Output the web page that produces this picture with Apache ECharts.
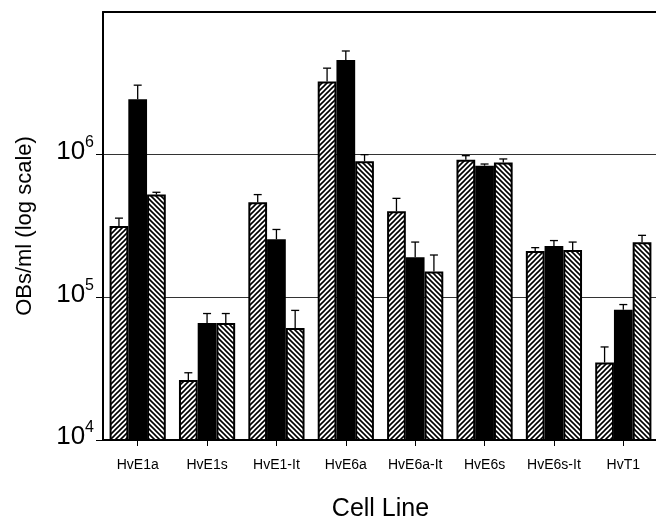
<!DOCTYPE html>
<html>
<head>
<meta charset="utf-8">
<script src="https://cdn.jsdelivr.net/npm/echarts@6/dist/echarts.min.js"></script>
<style>html,body{margin:0;padding:0;background:#fff;}#c{width:656px;height:520px;}</style>
</head>
<body>
<div id="c"></div>
<script>
// ---- data ----
const categories = ['HvE1a','HvE1s','HvE1-It','HvE6a','HvE6a-It','HvE6s','HvE6s-It','HvT1'];
const seriesA = [3.16e5, 2.63e4, 4.64e5, 3.26e6, 4.01e5, 9.23e5, 2.11e5, 3.49e4];
const errTopA = [3.59e5, 2.96e4, 5.25e5, 4.04e6, 4.94e5, 9.84e5, 2.23e5, 4.49e4];
const seriesB = [2.45e6, 6.6e4, 2.55e5, 4.61e6, 1.91e5, 8.37e5, 2.29e5, 8.2e4];
const errTopB = [3.07e6, 7.7e4, 2.99e5, 5.33e6, 2.44e5, 8.6e5, 2.5e5, 8.9e4];
const seriesC = [5.25e5, 6.6e4, 6.1e4, 8.98e5, 1.52e5, 8.83e5, 2.15e5, 2.43e5];
const errTopC = [5.45e5, 7.7e4, 8.1e4, 1.0e6, 1.98e5, 9.33e5, 2.44e5, 2.72e5];
const yTicks = [1e4, 1e5, 1e6];
const yMin = 1e4, yMax = 1e7;

function hatch(dir){
  const s = 5;
  const c = document.createElement('canvas');
  c.width = c.height = s;
  const g = c.getContext('2d');
  g.fillStyle = '#fff'; g.fillRect(0,0,s,s);
  g.strokeStyle = '#000'; g.lineWidth = 1.6;
  g.beginPath();
  if (dir > 0) {
    g.moveTo(-1, s+1); g.lineTo(s+1, -1);
    g.moveTo(-1, 1); g.lineTo(1, -1);
    g.moveTo(s-1, s+1); g.lineTo(s+1, s-1);
  } else {
    g.moveTo(-1, -1); g.lineTo(s+1, s+1);
    g.moveTo(s-1, -1); g.lineTo(s+1, 1);
    g.moveTo(-1, s-1); g.lineTo(1, s+1);
  }
  g.stroke();
  return c;
}

const GAP = 0.19;
function errSeries(vals, tops, offset){
  return {
    type: 'custom',
    z: 5,
    clip: true,
    data: vals.map((v, i) => [i, tops[i], v]),
    encode: {x: 0, y: 1},
    renderItem: function(params, api){
      const i = api.value(0), top = api.value(1), v = api.value(2);
      const p1 = api.coord([i, v]);
      const p2 = api.coord([i, top]);
      const band = api.size([1, 1])[0];
      const bw = band * (1 - GAP) / 3;
      const x = p1[0] + offset * bw;
      return {type: 'group', children: [
        {type: 'line', shape: {x1: x, y1: p1[1], x2: x, y2: p2[1]}, style: {stroke: '#000', lineWidth: 1.3}},
        {type: 'line', shape: {x1: x-4, y1: p2[1], x2: x+4, y2: p2[1]}, style: {stroke: '#000', lineWidth: 1.3}}
      ]};
    }
  };
}

const barBase = {type: 'bar', barGap: '0%', barCategoryGap: (GAP*100)+'%', clip: true};
const chart = echarts.init(document.getElementById('c'));
chart.setOption({
  animation: false,
  backgroundColor: '#fff',
  textStyle: {fontFamily: 'Liberation Sans, Arial, sans-serif', color: '#000'},
  grid: {left: 103, right: -2, top: 12, bottom: 80, containLabel: false, outerBoundsMode: 'none'},
  xAxis: [{
    type: 'category',
    data: categories,
    boundaryGap: true,
    axisLine: {show: true, lineStyle: {color: '#000', width: 2}},
    axisTick: {show: true, alignWithLabel: true, length: 6, lineStyle: {color: '#000', width: 1}},
    axisLabel: {fontSize: 14, color: '#000', margin: 18, interval: 0},
    name: 'Cell Line',
    nameLocation: 'middle',
    nameGap: 57,
    nameTextStyle: {fontSize: 25, color: '#000'},
    z: 10
  }, {
    type: 'category',
    position: 'top',
    data: categories,
    axisLine: {show: true, lineStyle: {color: '#000', width: 2}},
    axisTick: {show: false},
    axisLabel: {show: false}
  }],
  yAxis: {
    type: 'log',
    logBase: 10,
    min: yMin,
    max: yMax,
    axisLine: {show: true, lineStyle: {color: '#000', width: 2}},
    axisTick: {show: true, length: 7, customValues: yTicks, lineStyle: {color: '#000', width: 1}},
    minorTick: {show: false},
    splitLine: {show: true, lineStyle: {color: '#333', width: 1}},
    axisLabel: {
      margin: 9,
      color: '#000',
      padding: [0, 0, 10, 0],
      formatter: function(v){
        const e = Math.round(Math.log10(v));
        if (e >= 7) return '';
        return '{b|10}{s|' + e + '}';
      },
      rich: {
        b: {fontSize: 26, color: '#000', lineHeight: 30, verticalAlign: 'bottom'},
        s: {fontSize: 16, color: '#000', lineHeight: 30, verticalAlign: 'top'}
      }
    },
    name: 'OBs/ml (log scale)',
    nameLocation: 'middle',
    nameGap: 67,
    nameRotate: 90,
    nameTextStyle: {fontSize: 22, color: '#000'}
  },
  series: [
    Object.assign({}, barBase, {name: 'A', data: seriesA, itemStyle: {color: {image: hatch(1), repeat: 'repeat'}, borderColor: '#000', borderWidth: 2}}),
    Object.assign({}, barBase, {name: 'B', data: seriesB, itemStyle: {color: '#000', borderColor: '#000', borderWidth: 2}}),
    Object.assign({}, barBase, {name: 'C', data: seriesC, itemStyle: {color: {image: hatch(-1), repeat: 'repeat'}, borderColor: '#000', borderWidth: 2}}),
    errSeries(seriesA, errTopA, -1),
    errSeries(seriesB, errTopB, 0),
    errSeries(seriesC, errTopC, 1)
  ]
});
</script>
</body>
</html>
